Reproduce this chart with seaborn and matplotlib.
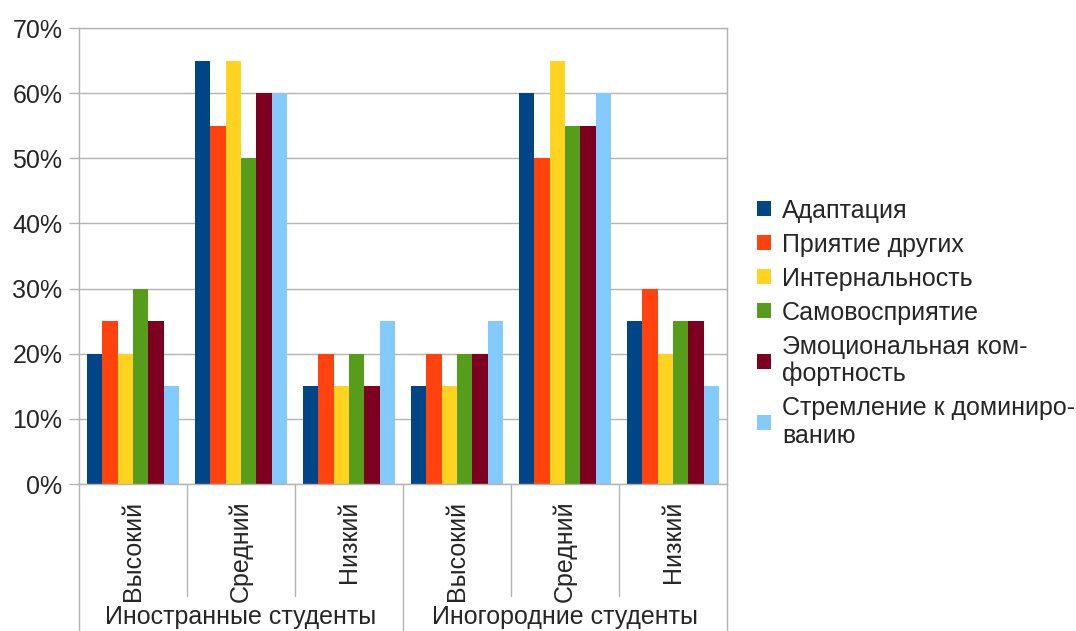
import numpy as np
import pandas as pd
import seaborn as sns
import matplotlib.pyplot as plt
from matplotlib.patches import Patch
from matplotlib.ticker import PercentFormatter

# Data
groups = ["Иностранные студенты", "Иногородние студенты"]
levels = ["Высокий", "Средний", "Низкий"]
series = ["Адаптация", "Приятие других", "Интернальность", "Самовосприятие",
          "Эмоциональная ком-\nфортность", "Стремление к доминиро-\nванию"]

adaptation = [0.20, 0.65, 0.15, 0.15, 0.60, 0.25]
acceptance = [0.25, 0.55, 0.20, 0.20, 0.50, 0.30]
internality = [0.20, 0.65, 0.15, 0.15, 0.65, 0.20]
self_perception = [0.30, 0.50, 0.20, 0.20, 0.55, 0.25]
emotional_comfort = [0.25, 0.60, 0.15, 0.20, 0.55, 0.25]
dominance = [0.15, 0.60, 0.25, 0.25, 0.60, 0.15]

colors = ["#004586", "#ff420e", "#ffd320", "#579d1c", "#7e0021", "#83caff"]

values = [adaptation, acceptance, internality, self_perception, emotional_comfort, dominance]
cat_keys = [f"{g}|{l}" for g in groups for l in levels]
rows = []
for name, vals in zip(series, values):
    for key, v in zip(cat_keys, vals):
        rows.append({"cat": key, "series": name, "value": v})
df = pd.DataFrame(rows)

sns.set_style("white")
plt.rcParams["font.family"] = ["Liberation Sans", "DejaVu Sans"]

fig = plt.figure(figsize=(10.76, 6.31), dpi=100)
ax = fig.add_axes([79 / 1076, 1 - 484 / 631, (727 - 79) / 1076, (484 - 28) / 631])

sns.barplot(data=df, x="cat", y="value", hue="series", order=cat_keys, hue_order=series,
            palette=colors, width=0.86, gap=0, saturation=1, linewidth=0, ax=ax, legend=False)

ax.set_ylim(0, 0.7)
ax.set_xlim(-0.5, 5.5)
ax.set_yticks(np.arange(0, 0.71, 0.1))
ax.yaxis.set_major_formatter(PercentFormatter(1.0, decimals=0))
ax.yaxis.grid(True, color="#b3b3b3", linewidth=1)
ax.set_axisbelow(True)
ax.set_xlabel("")
ax.set_ylabel("")
for s in ax.spines.values():
    s.set_color("#b3b3b3")
    s.set_linewidth(1)
ax.tick_params(axis="y", length=7, width=1, color="#b3b3b3", labelsize=18, pad=5, left=True)
ax.tick_params(axis="x", length=0, labelsize=18, pad=12)
ax.set_xticks(range(6))
ax.set_xticklabels(levels * 2, rotation=90)

# category separators below the axis
trans = ax.get_xaxis_transform()
for i, xb in enumerate(np.arange(-0.5, 6, 1.0)):
    low = -0.322 if i % 3 == 0 else -0.245
    ax.plot([xb, xb], [0, low], color="#b3b3b3", linewidth=1, transform=trans, clip_on=False)
for j, g in enumerate(groups):
    ax.text(1 + 3 * j, -0.292, g, transform=trans, ha="center", va="center", fontsize=18)

handles = [Patch(facecolor=c, edgecolor="none") for c in colors]
leg = fig.legend(handles, series, loc="center left", bbox_to_anchor=(757 / 1076, 0.488),
                 frameon=False, fontsize=18, handlelength=0.55, handleheight=0.55,
                 handletextpad=0.45, labelspacing=0.4, borderpad=0, borderaxespad=0)
for t in leg.get_texts():
    t.set_linespacing(1.17)

fig.savefig("out.png", dpi=100)
